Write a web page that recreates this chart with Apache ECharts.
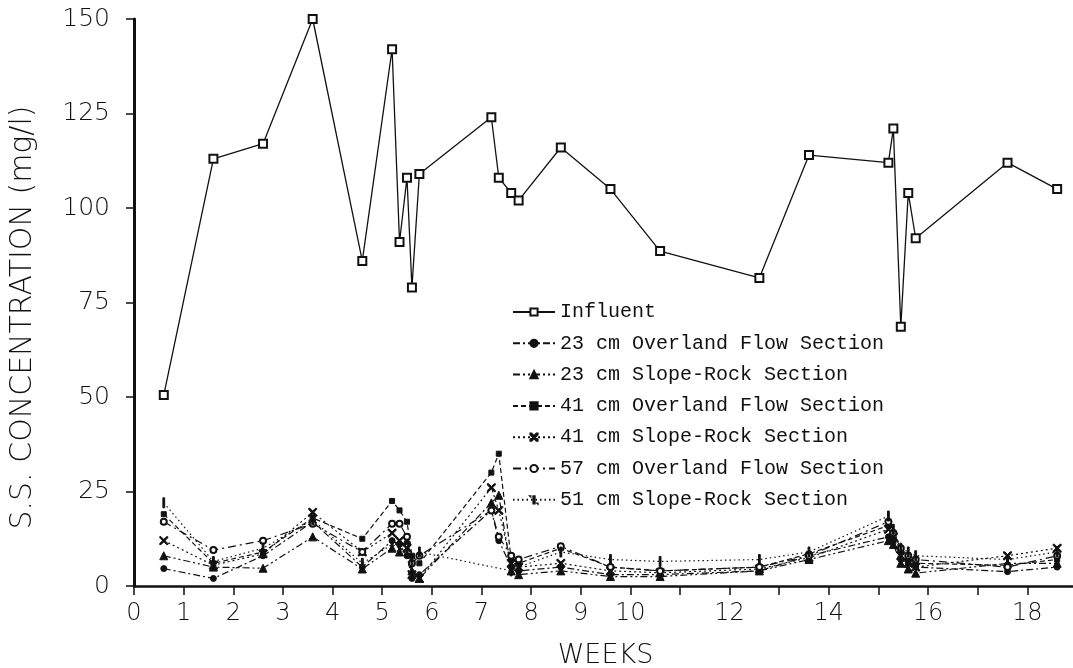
<!DOCTYPE html>
<html>
<head>
<meta charset="utf-8">
<script src="https://cdn.jsdelivr.net/npm/echarts@6/dist/echarts.min.js"></script>
<style>
html,body{margin:0;padding:0;background:#fff;}
#chart{width:1073px;height:668px;}
</style>
</head>
<body>
<div id="chart"></div>
<script>
// ---- data ----
const weeks = [0.6,1.6,2.6,3.6,4.6,5.2,5.35,5.5,5.6,5.75,7.2,7.35,7.6,7.75,8.6,9.6,10.6,12.6,13.6,15.2,15.3,15.45,15.6,15.75,17.6,18.6];
const influent = [50.5,113,117,150,86,142,91,108,79,109,124,108,104,102,116,105,88.6,81.5,114,112,121,68.6,104,92,112,105];
const of23 = [4.6,2,8,17,5,12,11,8,2,3,20,12,5,4,5,3,3,4,8,13,12,7,6,5,3.8,5];
const sr23 = [8,5,4.7,13,4.5,10,9,12,4,2,22,24,4,3,4,2.5,2.5,4,7,12,11,6,4.5,3.4,6,6];
const of41 = [19,6,9,18,12.5,22.5,20,17,8,6,30,35,7,6,10,5,4,5,8.5,16,14,9,7,6,5.5,7];
const sr41 = [12,5.5,8.5,19.5,9,14,12,10,3,2,26,20,6,5,6,4,3.5,4.5,7.5,15,13,8,6,5,8,10];
const of57 = [17,9.5,12,16.5,9,16.5,16.5,13,6,8,20,13,8,7,10.5,5,4,5,8,17,14,10,8,7,5,8];
const sr51 = [22,6.5,10,17.5,6,11,10,9,7,9,null,null,4,5,9,7,6.5,7,9,18.5,15,10,9,8,7,9];
const seriesNames = ['Influent','23 cm Overland Flow Section','23 cm Slope-Rock Section','41 cm Overland Flow Section','41 cm Slope-Rock Section','57 cm Overland Flow Section','51 cm Slope-Rock Section'];
const yTicks = [0,25,50,75,100,125,150];
const xLabelsShown = [0,1,2,3,4,5,6,7,8,9,10,12,14,16,18];

const pair = arr => weeks.map((w,i)=>[w, arr[i]]);
const axisFont = 'DejaVu Sans';
const X_PATH = 'path://M0,0L1.5,0L10,8.5L10,10L8.5,10L0,1.5Z M8.5,0L10,0L10,1.5L1.5,10L0,10L0,8.5Z';
const BAR_PATH = 'path://M0,0L0.01,0L0.01,0.01Z M9.99,9.99L10,9.99L10,10Z M4.1,0L5.9,0L5.9,10L4.1,10Z';

function mk(name, arr, symbol, size, dash, extra) {
  return Object.assign({
    name: name, type: 'line', data: pair(arr),
    symbol: symbol, symbolSize: size,
    lineStyle: {color:'#111', width: 1.2, type: dash},
    itemStyle: {color:'#111', borderColor:'#111', borderWidth: 1},
    emphasis: {disabled: true},
    animation: false, z: 2
  }, extra || {});
}

const chart = echarts.init(document.getElementById('chart'), null, {renderer:'canvas'});
chart.setOption({
  backgroundColor: '#fff',
  animation: false,
  grid: {left: 134, right: -4, top: 19, bottom: 82, containLabel: false, outerBoundsMode: 'none'},
  legend: {
    orient: 'vertical', left: 512, top: 302, padding: 0,
    itemWidth: 42, itemHeight: 9, itemGap: 11.3,
    textStyle: {fontFamily: 'Liberation Mono', fontSize: 20, color: '#111', lineHeight: 20},
    data: seriesNames,
    selectedMode: false
  },
  xAxis: {
    type: 'value', min: 0, max: 19, interval: 1,
    name: 'WEEKS', nameLocation: 'middle', nameGap: 56,
    nameTextStyle: {fontFamily: axisFont, fontSize: 27, fontWeight: 200, color: '#111'},
    axisLine: {show: true, onZero: false, lineStyle: {color: '#111', width: 2.5}},
    axisTick: {show: true, inside: false, length: 9, lineStyle: {color: '#111', width: 1.5}},
    splitLine: {show: false},
    axisLabel: {
      margin: 16, fontFamily: axisFont, fontSize: 24, fontWeight: 200, color: '#111',
      formatter: v => xLabelsShown.indexOf(v) >= 0 ? String(v) : ''
    }
  },
  yAxis: {
    type: 'value', min: 0, max: 150, interval: 25,
    name: 'S.S. CONCENTRATION (mg/l)', nameLocation: 'middle', nameGap: 96, nameRotate: 90,
    nameTextStyle: {fontFamily: axisFont, fontSize: 30, fontWeight: 200, color: '#111', padding: [0, 30, 0, 0]},
    axisLine: {show: true, lineStyle: {color: '#111', width: 3}},
    axisTick: {show: true, inside: false, length: 8, lineStyle: {color: '#111', width: 1.5}},
    splitLine: {show: false},
    axisLabel: {
      margin: 24, fontFamily: axisFont, fontSize: 25, fontWeight: 200, color: '#111',
      formatter: v => yTicks.indexOf(v) >= 0 ? String(v) : ''
    }
  },
  series: [
    mk(seriesNames[0], influent, 'emptyRect', 8, 'solid', {z: 5, lineStyle:{color:'#111', width:1.3, type:'solid'}, itemStyle:{color:'#111', borderColor:'#111', borderWidth:1.5}}),
    mk(seriesNames[1], of23, 'circle', 6, [7,3,2,3]),
    mk(seriesNames[2], sr23, 'triangle', 8, [7,3,2,3,2,3]),
    mk(seriesNames[3], of41, 'rect', 5, [5,3]),
    mk(seriesNames[4], sr41, X_PATH, 8, [2,3]),
    mk(seriesNames[5], of57, 'emptyCircle', 6, [8,4,2,4]),
    mk(seriesNames[6], sr51, BAR_PATH, 10, [1.5,3], {connectNulls: true})
  ]
});
</script>
</body>
</html>
